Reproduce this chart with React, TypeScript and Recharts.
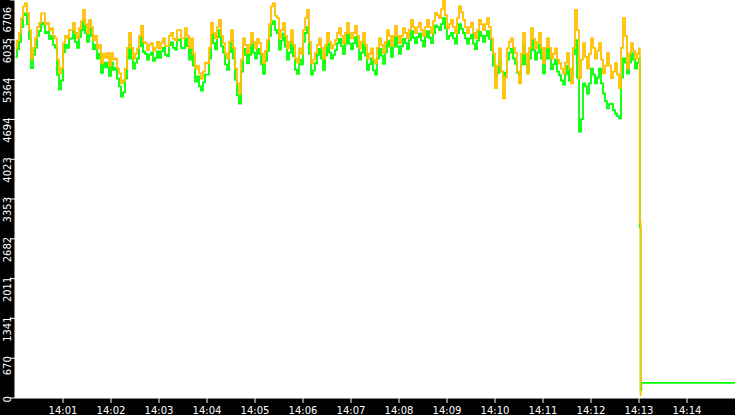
import React from 'react';
import { LineChart, Line, XAxis, YAxis, CartesianGrid } from 'recharts';

// quote samples every 2.5 s from 14:00:00 to 14:13:00, one row per minute
const SAMPLE_SECONDS = 2.5;

const askValues = [
  5890, 6020, 6150, 6400, 6600, 6650, 6490, 6200, 5720, 5900, 6060, 6250, 6320, 6480, 6480, 6300, 6320, 6200, 6230, 6100, 6060, 5700, 5470, 5560,
  5980, 6100, 6060, 6200, 6200, 6320, 6150, 6060, 6230, 6350, 6540, 6300, 6150, 6370, 6250, 6030, 6100, 5890, 5950, 5640, 5800, 5730, 5810, 5600,
  5810, 5700, 5720, 5550, 5470, 5300, 5350, 5550, 5900, 6150, 5900, 5720, 5800, 5890, 6100, 6270, 6000, 5980, 5860, 5950, 5980, 5850, 5900, 6000,
  5890, 5990, 6060, 5930, 5930, 6100, 6150, 6050, 6030, 6200, 6200, 6060, 6060, 6230, 6100, 5900, 6060, 5800, 5550, 5600, 5470, 5380, 5500, 5650,
  5640, 5900, 6320, 6150, 6060, 6250, 6370, 6100, 5980, 5800, 5720, 6000, 6200, 5900, 5550, 5300, 5130, 5700, 6060, 5950, 5810, 5950, 6150, 6000,
  5890, 6050, 5980, 5800, 5640, 5850, 6030, 6300, 6600, 6650, 6440, 6400, 6060, 6200, 6320, 6100, 5890, 6000, 6200, 5950, 5720, 5650, 5890, 5800,
  6200, 6400, 6540, 6000, 5640, 5700, 5810, 5950, 6060, 5900, 5720, 5950, 6150, 6000, 5890, 5950, 6030, 6150, 6230, 6100, 5980, 6150, 6320, 6150,
  6060, 6150, 6270, 6100, 5890, 6000, 6150, 5950, 5720, 5800, 5890, 5700, 5640, 5900, 6060, 5950, 5810, 6000, 6200, 6100, 5930, 6100, 6270, 6100,
  5980, 6100, 6230, 6150, 6060, 6200, 6370, 6250, 6150, 6250, 6320, 6200, 6100, 6250, 6370, 6250, 6150, 6350, 6490, 6450, 6400, 6550, 6700, 6450,
  6230, 6300, 6370, 6250, 6150, 6400, 6600, 6500, 6370, 6250, 6150, 6250, 6320, 6150, 6060, 6200, 6370, 6300, 6200, 6300, 6400, 6250, 6060, 5800,
  5220, 5600, 5890, 5500, 5050, 5400, 5890, 6000, 6060, 5900, 5810, 5500, 5300, 5800, 6150, 5800, 5470, 5900, 6230, 6050, 5890, 6000, 6150, 5900,
  5640, 5900, 6060, 5900, 5720, 5800, 5890, 5700, 5640, 5550, 5470, 5650, 5810, 5550, 5300, 5900, 6540, 6200, 5390, 5700, 5980, 5750, 5550, 5800,
  6060, 5900, 5720, 5850, 5980, 5700, 5470, 5600, 5810, 5600, 5390, 5500, 5640, 5450, 5220, 5900, 6400, 6100, 5550, 5800, 5980, 5850, 5720, 5800,
  5890,
];

const bidValues = [
  5750, 5880, 6000, 6250, 6450, 6480, 6300, 6050, 5560, 5780, 5900, 6100, 6180, 6320, 6300, 6150, 6170, 6050, 6100, 5950, 5900, 5450, 5200, 5350,
  5830, 5950, 5900, 6050, 6060, 6180, 6000, 5900, 6080, 6200, 6380, 6150, 6000, 6220, 6100, 5880, 5950, 5720, 5800, 5480, 5650, 5570, 5650, 5430,
  5650, 5530, 5560, 5380, 5250, 5080, 5150, 5380, 5720, 5950, 5720, 5550, 5650, 5720, 5930, 6080, 5830, 5800, 5700, 5780, 5820, 5680, 5730, 5840,
  5730, 5840, 5900, 5780, 5760, 5940, 5990, 5900, 5870, 6030, 6040, 5900, 5890, 6060, 5930, 5700, 5880, 5600, 5330, 5420, 5250, 5180, 5320, 5450,
  5450, 5720, 6120, 5980, 5880, 6080, 6200, 5930, 5820, 5620, 5530, 5830, 6030, 5720, 5360, 5100, 4960, 5500, 5880, 5780, 5640, 5780, 5980, 5820,
  5720, 5880, 5800, 5620, 5460, 5680, 5850, 6100, 6300, 6350, 6200, 6150, 5870, 6020, 6140, 5920, 5700, 5820, 6020, 5760, 5530, 5460, 5700, 5620,
  6000, 6150, 6250, 5800, 5450, 5520, 5640, 5780, 5880, 5720, 5530, 5770, 5970, 5820, 5720, 5780, 5860, 5980, 6050, 5930, 5800, 5970, 6120, 5970,
  5880, 5980, 6080, 5920, 5700, 5820, 5980, 5770, 5530, 5620, 5720, 5520, 5450, 5720, 5880, 5770, 5630, 5820, 6020, 5920, 5750, 5920, 6080, 5920,
  5800, 5930, 6050, 5980, 5880, 6030, 6180, 6070, 5980, 6080, 6140, 6020, 5920, 6080, 6180, 6070, 5980, 6150, 6280, 6250, 6200, 6300, 6400, 6230,
  6050, 6100, 6150, 6060, 5970, 6150, 6300, 6220, 6150, 6060, 5970, 6060, 6120, 5970, 5880, 6020, 6170, 6100, 6000, 6100, 6180, 6050, 5860, 5600,
  5420, 5480, 5700, 5500, 5380, 5480, 5700, 5820, 5880, 5720, 5630, 5480, 5450, 5620, 5950, 5620, 5470, 5720, 6030, 5860, 5700, 5820, 5960, 5720,
  5470, 5720, 5880, 5720, 5540, 5620, 5700, 5500, 5440, 5350, 5280, 5460, 5600, 5350, 5450, 5800, 6030, 5400, 4490, 4700, 5300, 5250, 5130, 5300,
  5550, 5450, 5300, 5400, 5550, 5300, 5130, 5000, 4880, 4950, 4960, 4850, 4790, 4750, 4710, 5400, 5720, 5650, 5470, 5650, 5810, 5700, 5550, 5650,
  5720,
];

// the collapse right after 14:13
const askTailSeconds = [781, 782];
const askTailValues = [2960, 30];
const bidTailSeconds = [781, 782, 783, 900];
const bidTailValues = [2880, 135, 254, 254];

const yTicks = [0, 670, 1341, 2011, 2682, 3353, 4023, 4694, 5364, 6035, 6706];
const xTicks = [60, 120, 180, 240, 300, 360, 420, 480, 540, 600, 660, 720, 780, 840];
const xTickLabels = ['14:01', '14:02', '14:03', '14:04', '14:05', '14:06', '14:07', '14:08', '14:09', '14:10', '14:11', '14:12', '14:13', '14:14'];

const toSeries = (values: number[], tailSec: number[], tailVals: number[]) => [
  ...values.map((v, i) => ({ t: i * SAMPLE_SECONDS, v })),
  ...tailSec.map((t, i) => ({ t, v: tailVals[i] })),
];

const askData = toSeries(askValues, askTailSeconds, askTailValues);
const bidData = toSeries(bidValues, bidTailSeconds, bidTailValues);

const FONT = '"DejaVu Sans", sans-serif';

const YTick = (props: any) => {
  const { y, payload } = props;
  const ay = y - 2;
  return (
    <text x={11} y={ay} transform={`rotate(-90, 11, ${ay})`} textAnchor="end" fill="#fff" fontSize={10} fontFamily={FONT}>
      {payload.value}
    </text>
  );
};

const XTick = (props: any) => {
  const { x, y, payload } = props;
  const label = xTickLabels[xTicks.indexOf(payload.value)];
  return (
    <text x={x} y={y + 9} textAnchor="middle" fill="#fff" fontSize={10} fontFamily={FONT}>
      {label}
    </text>
  );
};

export default function App() {
  return (
    <div style={{ position: 'absolute', left: 0, top: 0, width: 735, height: 415, background: '#000' }}>
      <LineChart width={735} height={415} margin={{ top: 0, right: 0, left: 0, bottom: 0 }}>
        <CartesianGrid fill="#fff" stroke="none" horizontal={false} vertical={false} />
        <XAxis
          type="number"
          dataKey="t"
          domain={[0, 900]}
          ticks={xTicks}
          height={17}
          tickSize={5}
          stroke="#fff"
          tick={<XTick />}
          allowDataOverflow
        />
        <YAxis
          type="number"
          domain={[0, 6706]}
          ticks={yTicks}
          width={15}
          tickSize={5}
          stroke="#fff"
          tick={<YTick />}
          allowDataOverflow
        />
        <Line data={bidData} dataKey="v" type="stepAfter" stroke="#00ff00" strokeWidth={1.8} dot={false} activeDot={false} isAnimationActive={false} />
        <Line data={askData} dataKey="v" type="stepAfter" stroke="#ffc000" strokeWidth={1.8} dot={false} activeDot={false} isAnimationActive={false} />
      </LineChart>
    </div>
  );
}
